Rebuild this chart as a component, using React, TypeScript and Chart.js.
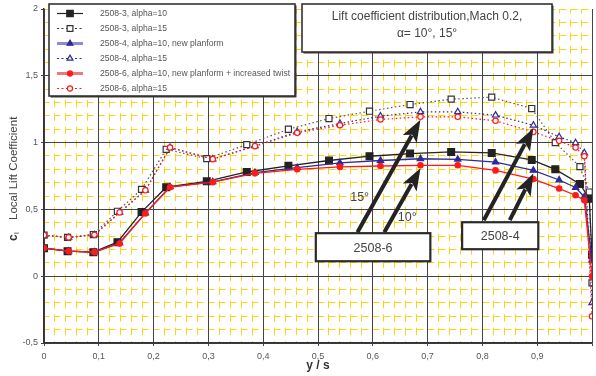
import React, { useEffect, useRef } from "react";
import { Chart, registerables } from "chart.js";

Chart.register(...registerables);

const FONT = "'Liberation Sans', Arial, sans-serif";

// span stations y/s
const stations2508_3 = [0, 0.043, 0.09, 0.134, 0.178, 0.223, 0.297, 0.37, 0.446, 0.52, 0.594, 0.668, 0.743, 0.817, 0.89, 0.933, 0.978, 0.995, 1.0];
const stationsNew = [0, 0.045, 0.092, 0.138, 0.185, 0.23, 0.308, 0.385, 0.462, 0.54, 0.614, 0.687, 0.755, 0.824, 0.893, 0.94, 0.97, 0.986, 1.0];

// local lift coefficient
const cl2508_3_a10 = [0.21, 0.187, 0.18, 0.255, 0.48, 0.666, 0.71, 0.78, 0.826, 0.866, 0.898, 0.918, 0.93, 0.923, 0.87, 0.8, 0.69, 0.58, 0.16];
const cl2508_3_a15 = [0.307, 0.29, 0.312, 0.486, 0.65, 0.95, 0.88, 0.985, 1.1, 1.18, 1.235, 1.285, 1.325, 1.34, 1.255, 1.0, 0.82, 0.63, -0.05];
const cl2508_4_a10 = [0.21, 0.187, 0.18, 0.25, 0.472, 0.668, 0.706, 0.776, 0.812, 0.848, 0.866, 0.879, 0.875, 0.854, 0.792, 0.72, 0.664, 0.594, 0.12];
const cl2508_4_a15 = [0.307, 0.29, 0.31, 0.477, 0.643, 0.963, 0.876, 0.975, 1.08, 1.143, 1.198, 1.23, 1.23, 1.205, 1.13, 1.043, 0.998, 0.923, -0.2];
const cl2508_6_a10 = [0.21, 0.187, 0.18, 0.245, 0.47, 0.666, 0.704, 0.77, 0.8, 0.818, 0.825, 0.83, 0.83, 0.792, 0.727, 0.656, 0.606, 0.569, 0.0];
const cl2508_6_a15 = [0.307, 0.29, 0.31, 0.477, 0.643, 0.963, 0.876, 0.973, 1.073, 1.13, 1.173, 1.193, 1.193, 1.163, 1.08, 1.013, 0.963, 0.898, -0.3];

const seriesLabels = [
  "2508-3, alpha=10",
  "2508-3, alpha=15",
  "2508-4, alpha=10, new planform",
  "2508-4, alpha=15",
  "2508-6, alpha=10, new planform + increased twist",
  "2508-6, alpha=15",
];

const titleLines = ["Lift coefficient distribution,Mach 0.2,", "\u03b1= 10\u00b0, 15\u00b0"];
const xAxisTitle = "y / s";
const yAxisTitleSymbol = "c";
const yAxisTitleSub = "l";
const yAxisTitleText = "Local Lift Coefficient";

const calloutLabels = ["2508-6", "2508-4"];
const angleLabels = ["15\u00b0", "10\u00b0"];

// annotation anchors in data coordinates
const calloutBoxes = [
  { x0: 0.496, x1: 0.705, y0: 0.322, y1: 0.112 },
  { x0: 0.763, x1: 0.902, y0: 0.404, y1: 0.202 },
];
const arrowTails = [
  [0.572, 0.329],
  [0.621, 0.329],
  [0.8025, 0.419],
  [0.85, 0.419],
];
const angleLabelPos = [
  [0.576, 0.591],
  [0.663, 0.442],
];

const styles = [
  { color: "#222", dash: [], width: 1.3, point: "rect", radius: 4.8, fill: true, legendColor: "#222", legendWidth: 1.2, order: 3 },
  { color: "#555", dash: [1.5, 2.5], width: 1.2, point: "rect", radius: 4.3, fill: false, legendColor: "#333", legendWidth: 1.2, order: 3 },
  { color: "#2b2b9c", dash: [], width: 1.3, point: "triangle", radius: 3.6, fill: true, legendColor: "#8c8cd2", legendWidth: 3, order: 2 },
  { color: "#2b2b9c", dash: [1.5, 2.5], width: 1.2, point: "triangle", radius: 3.6, fill: false, legendColor: "#2b2b9c", legendWidth: 1.2, order: 2 },
  { color: "#ff1a1a", dash: [], width: 1.3, point: "circle", radius: 2.7, fill: true, legendColor: "#f07878", legendWidth: 3, order: 1 },
  { color: "#ff1a1a", dash: [1.5, 2.5], width: 1.2, point: "circle", radius: 2.7, fill: false, legendColor: "#ff1a1a", legendWidth: 1.2, order: 1 },
];

const seriesX = [stations2508_3, stations2508_3, stationsNew, stationsNew, stationsNew, stationsNew];
const seriesY = [cl2508_3_a10, cl2508_3_a15, cl2508_4_a10, cl2508_4_a15, cl2508_6_a10, cl2508_6_a15];

function fmt(v: number) {
  return String(Number(v.toFixed(2))).replace(".", ",");
}

function drawMarker(ctx: CanvasRenderingContext2D, kind: string, x: number, y: number, r: number, color: string, fill: boolean) {
  ctx.save();
  ctx.setLineDash([]);
  ctx.beginPath();
  if (kind === "rect") {
    const s = Math.SQRT1_2 * r;
    ctx.rect(x - s, y - s, 2 * s, 2 * s);
  } else if (kind === "triangle") {
    let rad = 0;
    ctx.moveTo(x + Math.sin(rad) * r, y - Math.cos(rad) * r);
    rad += (2 * Math.PI) / 3;
    ctx.lineTo(x + Math.sin(rad) * r, y - Math.cos(rad) * r);
    rad += (2 * Math.PI) / 3;
    ctx.lineTo(x + Math.sin(rad) * r, y - Math.cos(rad) * r);
    ctx.closePath();
  } else {
    ctx.arc(x, y, r, 0, Math.PI * 2);
  }
  ctx.fillStyle = fill ? color : "#fff";
  ctx.fill();
  ctx.lineWidth = 1.2;
  ctx.strokeStyle = color;
  ctx.stroke();
  ctx.restore();
}

function shadowBox(ctx: CanvasRenderingContext2D, x: number, y: number, w: number, h: number) {
  ctx.save();
  ctx.setLineDash([]);
  ctx.fillStyle = "#3a3a3a";
  ctx.fillRect(x + 1.5, y + 1.5, w, h);
  ctx.fillStyle = "#fff";
  ctx.fillRect(x, y, w, h);
  ctx.lineWidth = 1.6;
  ctx.strokeStyle = "#333";
  ctx.strokeRect(x, y, w, h);
  ctx.restore();
}

function drawArrow(ctx: CanvasRenderingContext2D, x0: number, y0: number, x1: number, y1: number) {
  const ang = Math.atan2(y1 - y0, x1 - x0);
  const headLen = 22;
  const headHalf = 8;
  const bx = x1 - Math.cos(ang) * headLen;
  const by = y1 - Math.sin(ang) * headLen;
  ctx.save();
  ctx.setLineDash([]);
  ctx.strokeStyle = "#232323";
  ctx.fillStyle = "#232323";
  ctx.lineWidth = 4;
  ctx.beginPath();
  ctx.moveTo(x0, y0);
  ctx.lineTo(bx + Math.cos(ang) * 4, by + Math.sin(ang) * 4);
  ctx.stroke();
  ctx.beginPath();
  ctx.moveTo(x1, y1);
  ctx.lineTo(bx + Math.sin(ang) * headHalf, by - Math.cos(ang) * headHalf);
  ctx.lineTo(bx + Math.cos(ang) * 5, by + Math.sin(ang) * 5);
  ctx.lineTo(bx - Math.sin(ang) * headHalf, by + Math.cos(ang) * headHalf);
  ctx.closePath();
  ctx.fill();
  ctx.restore();
}

const overlayPlugin = {
  id: "overlay",
  afterDatasetsDraw(chart: any) {
    const ctx: CanvasRenderingContext2D = chart.ctx;
    const xs = chart.scales.x;
    const ys = chart.scales.y;
    const px = (v: number) => xs.getPixelForValue(v);
    const py = (v: number) => ys.getPixelForValue(v);

    // arrows to data points
    const targets = [
      [stationsNew[11], cl2508_6_a15[11]],
      [stationsNew[11], cl2508_6_a10[11]],
      [stationsNew[14], cl2508_4_a15[14]],
      [stationsNew[14], cl2508_4_a10[14]],
    ];
    arrowTails.forEach((t, i) => {
      const tx = px(targets[i][0]);
      const ty = py(targets[i][1]) + 3;
      drawArrow(ctx, px(t[0]), py(t[1]), tx, ty);
    });

    // callout boxes
    calloutBoxes.forEach((b, i) => {
      const x = px(b.x0);
      const y = py(b.y0);
      const w = px(b.x1) - x;
      const h = py(b.y1) - y;
      ctx.save();
      ctx.fillStyle = "#fff";
      ctx.fillRect(x, y, w, h);
      ctx.lineWidth = 2.2;
      ctx.strokeStyle = "#2a2a2a";
      ctx.strokeRect(x, y, w, h);
      ctx.fillStyle = "#444";
      ctx.font = `12.5px ${FONT}`;
      ctx.textAlign = "center";
      ctx.textBaseline = "middle";
      ctx.fillText(calloutLabels[i], x + w / 2, y + h / 2 + 1);
      ctx.restore();
    });

    // angle labels
    ctx.save();
    ctx.fillStyle = "#444";
    ctx.font = `12.5px ${FONT}`;
    ctx.textAlign = "center";
    ctx.textBaseline = "middle";
    angleLabelPos.forEach((p, i) => ctx.fillText(angleLabels[i], px(p[0]), py(p[1])));
    ctx.restore();
  },
  afterDraw(chart: any) {
    const ctx: CanvasRenderingContext2D = chart.ctx;
    const area = chart.chartArea;

    // title box
    shadowBox(ctx, 302, 4, 250, 48);
    ctx.save();
    ctx.fillStyle = "#444";
    ctx.font = `12px ${FONT}`;
    ctx.textAlign = "center";
    ctx.textBaseline = "middle";
    ctx.fillText(titleLines[0], 427, 17);
    ctx.fillText(titleLines[1], 427, 34);
    ctx.restore();

    // legend box
    shadowBox(ctx, 49, 4, 246, 92);
    ctx.save();
    styles.forEach((s, i) => {
      const y = 13.5 + i * 15;
      ctx.beginPath();
      ctx.setLineDash(s.dash.length ? [2, 2.5] : []);
      ctx.strokeStyle = s.legendColor;
      ctx.lineWidth = s.legendWidth;
      ctx.moveTo(57, y);
      ctx.lineTo(83, y);
      ctx.stroke();
      drawMarker(ctx, s.point, 70, y, s.radius * 0.95, s.color === "#555" ? "#333" : s.color, s.fill);
      ctx.setLineDash([]);
      ctx.fillStyle = "#555";
      ctx.font = `8.6px ${FONT}`;
      ctx.textAlign = "left";
      ctx.textBaseline = "middle";
      ctx.fillText(seriesLabels[i], 100, y + 0.5);
    });
    ctx.restore();

    // y-axis title (rotated)
    ctx.save();
    ctx.translate(14, 0);
    ctx.rotate(-Math.PI / 2);
    ctx.textBaseline = "middle";
    ctx.textAlign = "left";
    ctx.fillStyle = "#333";
    ctx.font = `bold 12px ${FONT}`;
    ctx.fillText(yAxisTitleSymbol, -241, 0);
    ctx.font = `8px ${FONT}`;
    ctx.fillText(yAxisTitleSub, -234, 3);
    ctx.fillStyle = "#444";
    ctx.font = `11.5px ${FONT}`;
    ctx.fillText(yAxisTitleText, -220, 0);
    ctx.restore();

    // x-axis title
    ctx.save();
    ctx.fillStyle = "#333";
    ctx.font = `bold 12px ${FONT}`;
    ctx.textAlign = "center";
    ctx.textBaseline = "middle";
    ctx.fillText(xAxisTitle, (area.left + area.right) / 2, 366);
    ctx.restore();
  },
};

export default function App() {
  const ref = useRef<HTMLCanvasElement | null>(null);

  useEffect(() => {
    if (!ref.current) return;
    const datasets = styles.map((s, i) => ({
      label: seriesLabels[i],
      data: seriesX[i].map((x, j) => ({ x, y: seriesY[i][j] })),
      borderColor: s.color,
      borderWidth: s.width,
      borderDash: s.dash,
      pointStyle: s.point,
      pointRadius: s.radius,
      pointBorderWidth: 1.2,
      pointBorderColor: s.color === "#555" ? "#333" : s.color,
      pointBackgroundColor: s.fill ? s.color : "#fff",
      fill: false,
      tension: 0,
      order: s.order,
    }));

    const minorColor = "#ffd21a";

    const chart = new Chart(ref.current, {
      type: "line",
      data: { datasets },
      options: {
        responsive: false,
        animation: false,
        devicePixelRatio: 1,
        layout: { autoPadding: false, padding: { top: 9, right: 0, left: 0, bottom: 0 } },
        plugins: { legend: { display: false }, tooltip: { enabled: false }, title: { display: false } },
        scales: {
          xMinor: {
            type: "linear",
            position: "bottom",
            min: 0,
            max: 1,
            ticks: { display: false, stepSize: 0.02, maxTicksLimit: 100, autoSkip: false },
            grid: { color: minorColor, lineWidth: 1, drawTicks: false, z: -2 },
            border: { display: false, dash: [7.5, 5.9], dashOffset: 3 },
            afterFit: (s: any) => { s.height = 0; },
          },
          yMinor: {
            type: "linear",
            position: "left",
            min: -0.5,
            max: 2,
            ticks: { display: false, stepSize: 0.1, maxTicksLimit: 100, autoSkip: false },
            grid: { color: minorColor, lineWidth: 1, drawTicks: false, z: -2 },
            border: { display: false, dash: [6.5, 4.5], dashOffset: 1 },
            afterFit: (s: any) => { s.width = 0; },
          },
          x: {
            type: "linear",
            position: "bottom",
            min: 0,
            max: 1,
            ticks: {
              stepSize: 0.1,
              autoSkip: false,
              maxRotation: 0,
              color: "#555",
              font: { size: 9, family: FONT },
              padding: 5,
              callback: (v: any) => (Number(v) >= 1 ? "" : fmt(Number(v))),
            },
            grid: { color: "#444", lineWidth: 1, tickLength: 3, tickColor: "#444", z: -1 },
            border: { color: "#333", width: 1.5 },
            afterFit: (s: any) => { s.height = 33; },
          },
          y: {
            type: "linear",
            position: "left",
            min: -0.5,
            max: 2,
            ticks: {
              stepSize: 0.5,
              color: "#555",
              font: { size: 9, family: FONT },
              padding: 3,
              callback: (v: any) => fmt(Number(v)),
            },
            grid: {
              color: (c: any) => (c.tick && c.tick.value >= 2 ? "rgba(0,0,0,0)" : "#444"),
              lineWidth: 1,
              tickLength: 3,
              tickColor: "#444",
              z: -1,
            },
            border: { color: "#333", width: 1.5 },
            afterFit: (s: any) => { s.width = 44; },
          },
        },
      } as any,
      plugins: [overlayPlugin],
    });
    return () => chart.destroy();
  }, []);

  return (
    <div style={{ position: "fixed", left: 0, top: 0, width: 596, height: 376, overflow: "hidden", background: "#fff" }}>
      <canvas ref={ref} width={597} height={376} style={{ display: "block", width: 597, height: 376 }} />
    </div>
  );
}
